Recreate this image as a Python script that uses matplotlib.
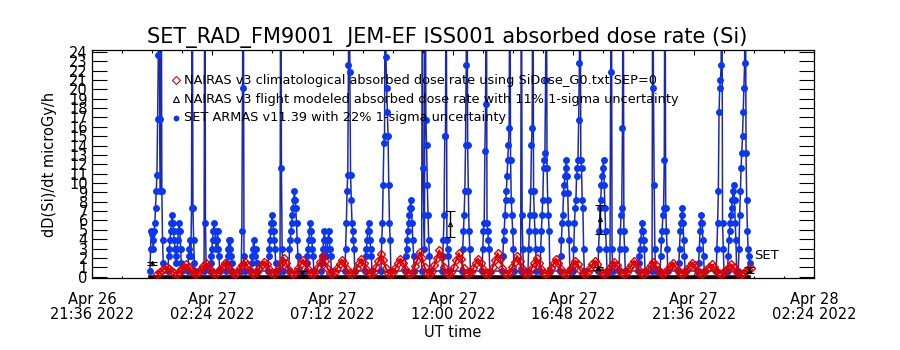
import matplotlib
matplotlib.use("Agg")
import matplotlib.pyplot as plt
import numpy as np

# ---------------- data ----------------
# time axis in hours since 2022-04-26 00:00 UT
x_ticks = [21.6, 26.4, 31.2, 36.0, 40.8, 45.6, 50.4]
x_ticklabels = ["Apr 26\n21:36 2022", "Apr 27\n02:24 2022", "Apr 27\n07:12 2022",
                "Apr 27\n12:00 2022", "Apr 27\n16:48 2022", "Apr 27\n21:36 2022",
                "Apr 28\n02:24 2022"]
y_ticks = list(range(0, 25))

# SET ARMAS measurement bursts: start time (h) and successive samples (microGy/h)
set_burst_start = [23.91, 24.63, 25.43, 26.07, 26.30, 26.95, 27.55, 27.94, 28.62, 29.10,
                   29.45, 30.14, 30.73, 31.69, 32.49, 33.13, 34.09, 34.75, 35.56, 36.36,
                   37.16, 37.96, 38.70, 38.99, 39.47, 40.27, 40.79, 41.78, 42.26, 42.62,
                   43.38, 43.94, 44.26, 44.98, 45.77, 46.50, 46.95, 47.38, 47.80]
set_burst_values = [
    [0.6, 3.0, 4.9, 4.5, 3.9, 3.0, 4.9, 5.7, 7.3, 9.1, 10.9, 16.8, 23.7, 40, 16.8, 9.1, 40, 9.1, 3.9, 1.4],
    [0.6, 2.2, 3.0, 3.9, 4.9, 5.7, 6.6, 5.7, 4.9, 3.9, 3.0, 2.2, 1.4, 3.0, 3.9, 4.9, 5.7, 4.9, 3.0, 1.4, 0.6],
    [0.6, 2.2, 3.0, 3.9, 2.2, 7.3, 40, 7.3, 3.9, 1.4, 0.6],
    [0.6, 40, 5.7, 1.0],
    [0.6, 1.4, 2.2, 3.0, 3.9, 4.9, 5.7, 4.9, 3.9, 3.0, 3.9, 4.9, 3.0, 2.2, 0.6],
    [0.6, 1.4, 2.2, 3.0, 3.9, 3.0, 3.9, 2.2, 1.4, 0.6],
    [0.6, 4.9, 20.1, 40, 2.2, 0.6],
    [0.6, 1.4, 2.2, 3.0, 3.9, 3.0, 2.2, 3.0, 1.4, 0.6],
    [0.6, 2.2, 3.0, 3.9, 4.9, 5.7, 6.6, 5.7, 4.9, 3.9, 3.0, 1.4, 0.6],
    [0.6, 40, 11.6, 3.0, 0.6],
    [0.6, 3.0, 3.9, 4.9, 5.7, 6.6, 7.3, 8.2, 9.1, 8.2, 7.3, 5.7, 3.9, 2.2, 0.6],
    [0.6, 1.4, 2.2, 3.0, 3.9, 4.9, 5.7, 4.9, 3.9, 3.0, 2.2, 0.6],
    [0.6, 1.4, 2.2, 3.0, 3.9, 4.9, 3.9, 3.0, 2.2, 3.0, 3.9, 4.9, 3.9, 3.0, 2.2, 0.6],
    [0.6, 3.0, 5.7, 9.1, 10.9, 22.6, 40, 21.8, 10.9, 8.2, 5.7, 4.9, 3.9, 3.0, 0.6],
    [0.6, 2.2, 3.0, 3.9, 4.9, 5.7, 4.9, 3.9, 3.0, 2.2, 0.6],
    [0.6, 3.9, 5.7, 9.8, 14.3, 15.0, 40, 23.5, 20.1, 17.6, 15.0, 9.8, 5.7, 3.9, 0.6],
    [0.6, 2.2, 3.0, 3.9, 4.9, 5.7, 6.6, 7.3, 8.2, 7.3, 5.7, 3.9, 2.2, 0.6],
    [0.6, 40, 11.6, 6.6, 3.0, 40, 16.75, 14.1, 9.8, 6.6, 3.9, 2.2, 0.6],
    [0.6, 2.2, 3.9, 6.6, 15.0, 15.0, 40, 3.9, 3.0, 2.2, 0.6],
    [0.6, 3.0, 4.9, 6.6, 9.1, 14.1, 22.6, 40, 14.1, 9.1, 4.9, 3.0, 0.6],
    [0.6, 3.0, 4.9, 5.7, 13.4, 18.4, 40, 5.7, 4.9, 3.9, 3.0, 0.6],
    [0.6, 2.2, 3.9, 4.9, 6.6, 8.2, 9.1, 10.7, 12.5, 14.1, 15.9, 40, 12.5, 8.2, 6.6, 4.9, 3.0, 0.6],
    [0.6, 40, 6.6, 3.0, 0.6],
    [0.6, 3.0, 4.9, 6.6, 9.1, 14.1, 15.9, 40, 9.1, 6.6, 4.9, 3.0, 0.6],
    [0.6, 3.0, 4.9, 6.6, 8.2, 11.6, 12.5, 13.2, 21.0, 40, 11.6, 8.2, 6.6, 4.9, 0.6],
    [0.6, 2.2, 3.9, 5.7, 6.6, 8.9, 9.8, 10.7, 11.6, 12.5, 10.7, 8.9, 5.7, 3.9, 0.6],
    [0.6, 3.0, 5.7, 7.3, 8.2, 10.7, 11.6, 12.5, 16.75, 22.8, 40, 12.5, 11.6, 8.2, 7.3, 3.0, 0.6],
    [0.6, 3.0, 4.9, 7.3, 8.2, 9.8, 10.7, 11.6, 12.5, 9.8, 7.3, 4.9, 3.0, 0.6],
    [0.6, 21.9, 40, 3.0, 0.6],
    [0.6, 3.0, 4.9, 6.6, 7.3, 15.9, 40, 4.9, 3.0, 0.6],
    [0.6, 1.4, 2.2, 3.0, 3.9, 4.9, 5.7, 4.9, 3.9, 3.0, 0.6],
    [0.6, 40, 20.1, 9.8, 3.0, 0.6],
    [0.6, 2.2, 3.9, 4.9, 6.6, 7.3, 12.5, 40, 7.3, 4.9, 3.0, 0.6],
    [0.6, 1.4, 3.0, 4.9, 5.7, 6.6, 7.3, 5.7, 3.9, 2.2, 0.6],
    [0.6, 1.4, 3.0, 4.9, 5.7, 6.6, 5.7, 3.9, 2.2, 0.6],
    [0.6, 3.0, 5.7, 9.1, 17.6, 20.1, 21.0, 22.6, 40, 5.7, 3.0, 0.6],
    [0.6, 2.2, 3.9, 4.9, 5.7, 6.6, 7.3, 8.2, 9.1, 9.8, 8.2, 5.7, 3.9, 0.6],
    [0.6, 3.0, 6.6, 9.1, 11.6, 13.2, 15.0, 17.6, 20.1, 22.8, 40, 13.2, 8.2, 4.9, 3.0],
    [2.2, 1.4],
]
set_sample_step = 0.028  # h between successive ARMAS samples

# NAIRAS climatological dose rate, regular cadence
nairas_clim_start = 24.2
nairas_clim_step = 0.097
nairas_clim_values = [
    0.3, 0.45, 0.7, 0.8, 1.0, 0.8, 0.6, 0.4,
    0.3, 0.45, 0.8, 1.0, 1.3, 1.0, 0.7, 0.4,
    0.3, 0.5, 0.8, 1.1, 1.4, 1.1, 0.7, 0.4,
    0.3, 0.5, 0.8, 1.1, 1.5, 1.2, 0.7, 0.4,
    0.3, 0.5, 0.9, 1.2, 1.6, 1.2, 0.7, 0.4,
    0.3, 0.5, 0.9, 1.2, 1.6, 1.3, 0.8, 0.4,
    0.3, 0.5, 0.9, 1.4, 2.0, 1.5, 0.8, 0.4,
    0.3, 0.5, 0.9, 1.3, 1.8, 1.4, 0.8, 0.4,
    0.3, 0.5, 1.0, 1.6, 2.2, 1.7, 0.9, 0.4,
    0.3, 0.5, 0.9, 1.3, 1.8, 1.4, 0.8, 0.4,
    0.3, 0.5, 0.9, 1.4, 1.9, 1.4, 0.8, 0.4,
    0.3, 0.5, 1.0, 1.7, 2.4, 1.8, 0.9, 0.4,
    0.3, 0.5, 0.9, 1.4, 1.9, 1.5, 0.8, 0.4,
    0.3, 0.5, 1.1, 1.8, 2.6, 2.0, 1.0, 0.4,
    0.3, 0.6, 1.2, 2.0, 2.8, 2.1, 1.0, 0.4,
    0.3, 0.5, 1.0, 1.8, 2.5, 1.9, 0.9, 0.4,
    0.3, 0.5, 0.9, 1.4, 1.9, 1.4, 0.8, 0.4,
    0.3, 0.5, 1.0, 1.8, 2.5, 1.9, 0.9, 0.4,
    0.3, 0.5, 1.0, 1.6, 2.2, 1.7, 0.9, 0.4,
    0.3, 0.5, 0.9, 1.4, 2.0, 1.5, 0.8, 0.4,
    0.3, 0.5, 0.9, 1.4, 1.9, 1.4, 0.8, 0.4,
    0.3, 0.5, 0.9, 1.2, 1.7, 1.3, 0.7, 0.4,
    0.3, 0.5, 0.9, 1.3, 1.7, 1.3, 0.7, 0.4,
    0.3, 0.5, 0.8, 1.2, 1.6, 1.2, 0.7, 0.4,
    0.3, 0.5, 0.9, 1.2, 1.7, 1.3, 0.7, 0.4,
    0.3, 0.5, 0.8, 1.2, 1.6, 1.2, 0.7, 0.4,
    0.3, 0.5, 0.8, 1.1, 1.5, 1.1, 0.7, 0.4,
    0.3, 0.5, 0.8, 1.1, 1.5, 1.2, 0.7, 0.4,
    0.3, 0.45, 0.8, 1.0, 1.3, 1.0, 0.6, 0.4,
    0.3, 0.45, 0.7, 1.0, 1.3, 1.0, 0.6, 0.4,
    0.3, 0.4, 0.6, 0.8, 0.9,
]

# NAIRAS flight-modeled dose rate with 11% uncertainty
nairas_flt_t = [23.99, 29.98, 35.88, 41.80, 41.86, 47.80]
nairas_flt_v = [1.4, 0.4, 5.6, 0.9, 6.1, 0.7]
nairas_flt_err = [0.2, 0.25, 1.4, 0.15, 1.5, 0.35]
nairas_flt_base_t = [23.9, 47.8]
nairas_flt_base_v = [0.0, 0.0]

title = "SET_RAD_FM9001  JEM-EF ISS001 absorbed dose rate (Si)"
legend_labels = ["NAIRAS v3 climatological absorbed dose rate using SiDose_G0.txt SEP=0",
                 "NAIRAS v3 flight modeled absorbed dose rate with 11% 1-sigma uncertainty",
                 "SET ARMAS v11.39 with 22% 1-sigma uncertainty"]

# ---------------- build series ----------------
set_t, set_v = [], []
for t0, vals in zip(set_burst_start, set_burst_values):
    for i, v in enumerate(vals):
        set_t.append(t0 + i * set_sample_step)
        set_v.append(v)
clim_t = [nairas_clim_start + i * nairas_clim_step for i in range(len(nairas_clim_values))]

# ---------------- plot ----------------
plt.rcParams['font.family'] = ['DejaVu Sans']
fig = plt.figure(figsize=(9, 3.5), dpi=100)
ax = fig.add_axes([92/900, 1-278/350, 722/900, 228/350])

RED = '#e00000'
BLUE_L = '#1c2aa8'
BLUE_M = '#0a36f5'

ax.plot(set_t, set_v, '-', color=BLUE_L, lw=1.1, zorder=2)
ax.plot(set_t, set_v, 'o', color=BLUE_M, ms=5.0, mew=0, zorder=3)

ax.plot(nairas_flt_base_t, nairas_flt_base_v, '-', color='#200000', lw=2.6, zorder=4, clip_on=False)
ax.plot(clim_t, nairas_clim_values, '-', color=RED, lw=1.4, zorder=5)
ax.plot(clim_t, nairas_clim_values, 'D', mfc='none', mec=RED, ms=4.4, mew=1.0, zorder=5)

ax.errorbar(nairas_flt_t, nairas_flt_v, yerr=nairas_flt_err, fmt='^', color='black',
            ms=3, mfc='none', mew=0.8, elinewidth=1.0, capsize=3.5, capthick=1.0, zorder=6)

ax.annotate("SET", xy=(set_t[-1], set_v[-1]), xytext=(3, 1), textcoords='offset points',
            fontsize=9.5, va='bottom', ha='left', zorder=7)

ax.set_xlim(x_ticks[0], x_ticks[-1])
ax.set_ylim(-0.15, 24.2)
ax.set_xticks(x_ticks)
ax.set_xticklabels(x_ticklabels, fontsize=10.5, linespacing=1.05)
ax.set_xticks(np.arange(x_ticks[0], x_ticks[-1] + 0.01, 1.2), minor=True)
ax.set_yticks(y_ticks)
ax.set_yticklabels([str(v) for v in y_ticks], fontsize=10.5)
ax.tick_params(axis='y', which='major', direction='in', length=11, width=0.8,
               left=True, right=True, pad=3)
ax.tick_params(axis='x', which='major', direction='in', length=3.4, width=0.8,
               top=True, bottom=True, pad=10)
ax.tick_params(axis='x', which='minor', direction='in', length=1.8, width=0.8,
               top=True, bottom=True)
for s in ax.spines.values():
    s.set_linewidth(0.9)

ax.set_xlabel("UT time", fontsize=10.5, labelpad=2)
ax.set_ylabel("dD(Si)/dt microGy/h", fontsize=10.5, labelpad=9)
fig.text(447/900, 1-37/350, title, ha='center', va='center', fontsize=15)

# legend drawn as text lines inside the plot
leg_y = [0.868, 0.785, 0.702]
leg_markers = [dict(marker='D', mfc='none', mec=RED, ms=3.6, mew=0.8),
               dict(marker='^', mfc='none', mec='black', ms=4, mew=0.8),
               dict(marker='o', mfc=BLUE_M, mec=BLUE_M, ms=4.2, mew=0)]
for yy, lab, mk in zip(leg_y, legend_labels, leg_markers):
    ax.plot([0.117], [yy], transform=ax.transAxes, linestyle='none', zorder=8, **mk)
    ax.text(0.127, yy, lab, transform=ax.transAxes, fontsize=9.3, va='center', ha='left', zorder=8)

fig.savefig("out.png", dpi=100, facecolor='white')
